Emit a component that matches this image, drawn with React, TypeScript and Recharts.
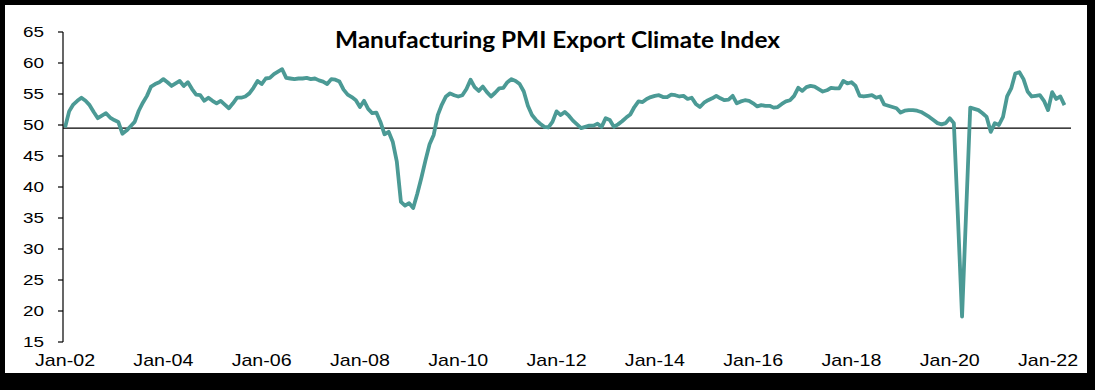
import React from "react";
import { LineChart, Line, XAxis, YAxis, ReferenceLine } from "recharts";

// monthly index, Jan-02 .. May-22
const exportClimate = [
  49.6, 52.2, 53.3, 53.9, 54.4, 53.9, 53.2, 52.1, 51.1, 51.5, 51.9, 51.2, // 2002
  50.8, 50.5, 48.6, 49.1, 49.8, 50.5, 52.3, 53.6, 54.7, 56.2, 56.6, 56.9, // 2003
  57.4, 56.9, 56.3, 56.7, 57.1, 56.3, 56.9, 55.8, 54.9, 54.8, 53.9, 54.4, // 2004
  53.9, 53.5, 53.9, 53.3, 52.7, 53.5, 54.4, 54.4, 54.6, 55.1, 56.0, 57.1, // 2005
  56.6, 57.5, 57.6, 58.2, 58.6, 59.0, 57.6, 57.5, 57.4, 57.5, 57.5, 57.6, // 2006
  57.4, 57.5, 57.2, 57.0, 56.6, 57.4, 57.3, 57.0, 55.7, 54.9, 54.5, 54.0, // 2007
  52.9, 53.9, 52.6, 51.9, 52.0, 50.5, 48.5, 48.9, 47.3, 44.1, 37.6, 37.0, // 2008
  37.4, 36.6, 38.9, 41.5, 44.3, 46.9, 48.4, 51.6, 53.3, 54.6, 55.1, 54.8, // 2009
  54.6, 54.8, 55.8, 57.3, 56.1, 55.5, 56.2, 55.3, 54.6, 55.2, 55.9, 56.0, // 2010
  56.9, 57.4, 57.1, 56.6, 55.4, 53.1, 51.6, 50.8, 50.2, 49.7, 49.6, 50.5, // 2011
  52.2, 51.6, 52.1, 51.5, 50.7, 50.1, 49.5, 49.7, 49.9, 49.9, 50.2, 49.7, // 2012
  51.1, 50.8, 49.7, 50.1, 50.6, 51.2, 51.7, 52.9, 53.8, 53.7, 54.2, 54.5, // 2013
  54.7, 54.8, 54.5, 54.5, 54.9, 54.8, 54.6, 54.7, 54.2, 54.4, 53.4, 52.9, // 2014
  53.6, 54.0, 54.3, 54.7, 54.3, 54.0, 54.1, 54.7, 53.5, 53.8, 54.0, 53.9, // 2015
  53.5, 53.0, 53.2, 53.1, 53.1, 52.8, 52.9, 53.4, 53.8, 54.0, 54.7, 56.0, // 2016
  55.5, 56.1, 56.3, 56.2, 55.8, 55.4, 55.6, 56.0, 55.9, 55.9, 57.1, 56.7, // 2017
  56.9, 56.3, 54.7, 54.6, 54.7, 54.8, 54.4, 54.6, 53.3, 53.1, 52.9, 52.7, // 2018
  52.0, 52.3, 52.4, 52.4, 52.3, 52.1, 51.7, 51.3, 50.8, 50.3, 50.1, 50.3, // 2019
  51.1, 50.3, 35.0, 19.1, 36.0, 52.8, 52.6, 52.4, 51.9, 51.3, 48.9, 50.3, // 2020
  50.0, 51.3, 54.6, 55.9, 58.3, 58.5, 57.4, 55.4, 54.6, 54.7, 54.8, 53.9, // 2021
  52.4, 55.3, 54.2, 54.6, 53.2, // 2022
];

const monthNames = ["Jan", "Feb", "Mar", "Apr", "May", "Jun", "Jul", "Aug", "Sep", "Oct", "Nov", "Dec"];
const xTickLabels = ["Jan-02", "Jan-04", "Jan-06", "Jan-08", "Jan-10", "Jan-12", "Jan-14", "Jan-16", "Jan-18", "Jan-20", "Jan-22"];
const xTickIdx = xTickLabels.map((_, k) => k * 24);
const yTicks = [15, 20, 25, 30, 35, 40, 45, 50, 55, 60, 65];
const baseline = 49.5;

const data = exportClimate.map((value, i) => ({
  idx: i,
  month: `${monthNames[i % 12]}-${String(2 + Math.floor(i / 12)).padStart(2, "0")}`,
  value,
}));

const FONT = "'Liberation Sans', Arial, sans-serif";

const XTick = (props: any) => {
  const { x, y, payload } = props;
  const k = xTickIdx.indexOf(payload.value);
  return (
    <text x={x} y={y + 24} textAnchor="middle" fontFamily={FONT} fontSize={17} fill="#000"
      textLength={60} lengthAdjust="spacingAndGlyphs">
      {xTickLabels[k]}
    </text>
  );
};

const YTick = (props: any) => {
  const { x, y, payload } = props;
  return (
    <text x={x} y={y} dy="0.36em" textAnchor="end" fontFamily={FONT} fontSize={15} fill="#000"
      textLength={21} lengthAdjust="spacingAndGlyphs">
      {payload.value}
    </text>
  );
};

export default function App() {
  return (
    <div style={{ position: "absolute", left: 0, top: 0, width: 1095, height: 390, background: "#000" }}>
      <div style={{ position: "absolute", left: 5, top: 5, width: 1082, height: 368, background: "#fff" }} />
      <div style={{ position: "absolute", left: 0, top: 0 }}>
        <LineChart width={1095} height={390} data={data} margin={{ top: 32, right: 24, bottom: 0, left: 0 }}>
          <XAxis dataKey="idx" type="number" domain={[-0.5, 245.6]} ticks={xTickIdx} interval={0}
            allowDataOverflow height={48} axisLine={false} tickLine={false} tickSize={0} tickMargin={0}
            tick={<XTick />} />
          <YAxis domain={[15, 65]} ticks={yTicks} interval={0} width={63} tickSize={5} tickMargin={14}
            axisLine={{ stroke: "#000", strokeWidth: 1.2 }} tickLine={{ stroke: "#000", strokeWidth: 1.2 }}
            tick={<YTick />} />
          <ReferenceLine y={baseline} stroke="#000" strokeWidth={1.3} />
          <Line type="linear" dataKey="value" stroke="#4B9A95" strokeWidth={3.8} dot={false}
            strokeLinejoin="round" isAnimationActive={false} />
        </LineChart>
      </div>
      <svg width={1095} height={390} style={{ position: "absolute", left: 0, top: 0, pointerEvents: "none" }}>
        <text x={557.5} y={48} textAnchor="middle" fontFamily="Lato, 'Open Sans', sans-serif" fontWeight={700}
          fontSize={23} fill="#000" textLength={445} lengthAdjust="spacingAndGlyphs">
          Manufacturing PMI Export Climate Index
        </text>
      </svg>
    </div>
  );
}
